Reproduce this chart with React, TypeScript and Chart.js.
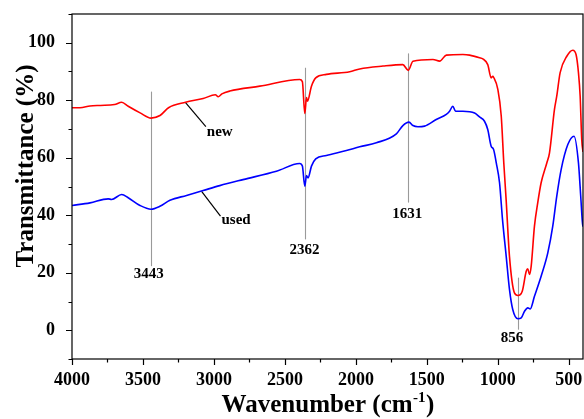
import React, { useEffect, useRef } from 'react';
import { Chart, registerables } from 'chart.js';

Chart.register(...registerables);

// ---- Data ----
const newWavenumbers = [
  4000, 3944, 3873, 3800, 3700, 3650, 3604, 3520, 3443, 3380, 3320, 3200, 3076, 2990, 2970, 2944,
  2888, 2677, 2396, 2377, 2360, 2348, 2341, 2313, 2283, 2208, 2044, 1973, 1809, 1669, 1631, 1598,
  1457, 1410, 1363, 1246, 1199, 1129, 1106, 1071, 1047, 1035, 1030, 1000, 976, 958, 941, 918, 883,
  859, 828, 800, 789, 777, 765, 742, 719, 695, 655, 636, 601, 585, 561, 514, 472, 449, 432, 420,
  409, 400,
];
const newTransmittance = [
  77.4, 77.4, 78.0, 78.2, 78.5, 79.3, 77.9, 75.6, 73.8, 74.7, 77.4, 79.3, 80.6, 81.9, 81.2, 82.2,
  83.2, 84.9, 87.2, 86.5, 75.4, 80.9, 79.7, 84.9, 87.8, 89.0, 89.9, 90.9, 91.9, 92.4, 90.4, 93.6,
  94.2, 93.6, 95.7, 95.9, 95.7, 94.8, 94.4, 92.4, 87.8, 88.3, 88.0, 83.8, 74.5, 58.2, 45.0, 25.7, 13.0,
  12.1, 13.6, 20.5, 21.4, 19.4, 22.3, 36.2, 44.3, 51.3, 58.2, 61.7, 76.8, 81.4, 89.6, 95.3, 97.4, 95.9, 89.6, 81.4,
  66.4, 62.0,
];

const usedWavenumbers = [
  4000, 3873, 3745, 3721, 3650, 3604, 3521, 3443, 3381, 3310, 3193, 3076, 2959, 2795, 2560, 2396,
  2377, 2360, 2348, 2337, 2313, 2283, 2208, 2067, 1973, 1856, 1715, 1669, 1626, 1598, 1563, 1516,
  1434, 1363, 1340, 1317, 1298, 1246, 1164, 1129, 1094, 1071, 1047, 1030, 1011, 988, 967, 941, 918,
  895, 859, 835, 812, 789, 772, 742, 695, 648, 613, 585, 554, 507, 463, 432, 416, 404, 400,
];
const usedTransmittance = [
  43.4, 44.3, 45.7, 45.5, 47.2, 46.1, 43.4, 42.1, 43.1, 45.2, 46.9, 48.6, 50.3, 52.4, 55.3, 58.0,
  57.1, 50.1, 53.8, 53.0, 57.1, 59.6, 60.8, 62.5, 63.8, 65.2, 68.3, 71.2, 72.4, 71.2, 70.8, 71.0,
  73.3, 75.1, 76.2, 77.9, 76.2, 76.2, 75.6, 74.2, 72.7, 69.8, 64.0, 62.9, 58.2, 51.3, 38.5, 25.7, 14.2,
  7.2, 4.0, 4.3, 6.6, 7.8, 7.4, 11.8, 18.8, 26.9, 36.2, 46.6, 55.9, 64.6, 67.5, 58.2, 46.6, 37.4, 36.0,
];

const xTickValues = [4000, 3750, 3500, 3250, 3000, 2750, 2500, 2250, 2000, 1750, 1500, 1250, 1000, 750, 500];
const yTickValues = [-10, 0, 10, 20, 30, 40, 50, 60, 70, 80, 90, 100, 110];

const peakWavenumbers = [3443, 2362, 1631, 856];
const peakLabels = ['3443', '2362', '1631', '856'];
const seriesNames = ['new', 'used'];

// ---- Annotation geometry (data units) ----
const peakLineTop = [83, 91.3, 96.3, 18.3];
const peakLineBottom = [22.3, 31.6, 44.4, 0.2];
const peakLabelX = [3460, 2362, 1639, 900];
const peakLabelY = [19.4, 27.7, 40.4, -2.9];
const leaderFrom = [[3200, 79.2], [3087, 48.3]];
const leaderTo = [[3057, 70.8], [2954, 39.7]];
const leaderText = [[3050, 69.0], [2947, 38.2]];

const FONT = "'Liberation Serif', 'Times New Roman', serif";

const decorPlugin = {
  id: 'decor',
  beforeDatasetsDraw(chart: any) {
    const { ctx } = chart;
    const xs = chart.scales.x;
    const ys = chart.scales.y;
    ctx.save();
    ctx.strokeStyle = '#9a9a9a';
    ctx.lineWidth = 1.1;
    peakWavenumbers.forEach((w, i) => {
      const px = Math.round(xs.getPixelForValue(w)) + 0.5;
      ctx.beginPath();
      ctx.moveTo(px, ys.getPixelForValue(peakLineTop[i]));
      ctx.lineTo(px, ys.getPixelForValue(peakLineBottom[i]));
      ctx.stroke();
    });
    ctx.fillStyle = '#000';
    ctx.font = `bold 15px ${FONT}`;
    ctx.textAlign = 'center';
    ctx.textBaseline = 'middle';
    peakLabels.forEach((t, i) => {
      ctx.fillText(t, xs.getPixelForValue(peakLabelX[i]), ys.getPixelForValue(peakLabelY[i]));
    });
    ctx.strokeStyle = '#000';
    ctx.lineWidth = 1.2;
    seriesNames.forEach((name, i) => {
      ctx.beginPath();
      ctx.moveTo(xs.getPixelForValue(leaderFrom[i][0]), ys.getPixelForValue(leaderFrom[i][1]));
      ctx.lineTo(xs.getPixelForValue(leaderTo[i][0]), ys.getPixelForValue(leaderTo[i][1]));
      ctx.stroke();
      ctx.textAlign = 'left';
      ctx.fillText(name, xs.getPixelForValue(leaderText[i][0]), ys.getPixelForValue(leaderText[i][1]));
    });
    ctx.restore();
  },
  afterDraw(chart: any) {
    const { ctx, chartArea } = chart;
    const xs = chart.scales.x;
    const ys = chart.scales.y;
    ctx.save();
    ctx.strokeStyle = '#000';
    ctx.lineWidth = 1.2;
    ctx.strokeRect(chartArea.left, chartArea.top, chartArea.right - chartArea.left, chartArea.bottom - chartArea.top);
    ctx.beginPath();
    xTickValues.forEach((v) => {
      const px = Math.round(xs.getPixelForValue(v)) + 0.5;
      const len = v % 500 === 0 ? 6 : 3.5;
      ctx.moveTo(px, chartArea.bottom);
      ctx.lineTo(px, chartArea.bottom + len);
    });
    yTickValues.forEach((v) => {
      const py = Math.round(ys.getPixelForValue(v)) + 0.5;
      const len = v % 20 === 0 ? 6 : 3.5;
      ctx.moveTo(chartArea.left, py);
      ctx.lineTo(chartArea.left - len, py);
    });
    ctx.stroke();

    // axis titles
    ctx.fillStyle = '#000';
    ctx.save();
    ctx.translate(33, 166);
    ctx.rotate(-Math.PI / 2);
    ctx.font = `bold 25px ${FONT}`;
    ctx.textAlign = 'center';
    ctx.textBaseline = 'alphabetic';
    ctx.fillText('Transmittance (%)', 0, 0);
    ctx.restore();

    const main = 'Wavenumber (cm';
    const sup = '-1';
    const close = ')';
    ctx.textBaseline = 'alphabetic';
    ctx.textAlign = 'left';
    ctx.font = `bold 25px ${FONT}`;
    const w1 = ctx.measureText(main).width;
    const w3 = ctx.measureText(close).width;
    ctx.font = `bold 15px ${FONT}`;
    const w2 = ctx.measureText(sup).width;
    const cx = (chartArea.left + chartArea.right) / 2;
    const baseY = 412;
    const x0 = cx - (w1 + w2 + w3) / 2;
    ctx.font = `bold 25px ${FONT}`;
    ctx.fillText(main, x0, baseY);
    ctx.font = `bold 15px ${FONT}`;
    ctx.fillText(sup, x0 + w1 + 0.5, baseY - 10);
    ctx.font = `bold 25px ${FONT}`;
    ctx.fillText(close, x0 + w1 + w2 + 1, baseY);
    ctx.restore();
  },
};

export default function App() {
  const ref = useRef<HTMLCanvasElement>(null);
  useEffect(() => {
    document.body.style.margin = '0';
    const toPoints = (xs: number[], ys: number[]) => xs.map((x, i) => ({ x, y: ys[i] }));
    const chart = new Chart(ref.current as HTMLCanvasElement, {
      type: 'line',
      data: {
        datasets: [
          {
            label: seriesNames[0],
            data: toPoints(newWavenumbers, newTransmittance),
            borderColor: '#ff0000',
            borderWidth: 1.6,
            pointRadius: 0,
            cubicInterpolationMode: 'monotone',
            fill: false,
          },
          {
            label: seriesNames[1],
            data: toPoints(usedWavenumbers, usedTransmittance),
            borderColor: '#0000ff',
            borderWidth: 1.6,
            pointRadius: 0,
            cubicInterpolationMode: 'monotone',
            fill: false,
          },
        ],
      },
      options: {
        responsive: false,
        animation: false,
        devicePixelRatio: 1,
        layout: { padding: { top: 14, right: 1, left: 0, bottom: 0 } },
        plugins: { legend: { display: false }, tooltip: { enabled: false } },
        scales: {
          x: {
            type: 'linear',
            min: 400,
            max: 4000,
            reverse: true,
            afterBuildTicks: (s: any) => {
              s.ticks = xTickValues.map((v) => ({ value: v }));
            },
            afterFit: (s: any) => {
              s.height = 60;
              s.paddingLeft = 0;
              s.paddingRight = 0;
            },
            grid: { display: false },
            border: { display: false },
            ticks: {
              autoSkip: false,
              maxRotation: 0,
              minRotation: 0,
              padding: 3,
              color: '#000',
              font: { family: FONT, size: 18, weight: 'bold' },
              callback: (v: any) => (Number(v) % 500 === 0 ? String(v) : ''),
            },
          },
          y: {
            type: 'linear',
            min: -10,
            max: 110,
            afterBuildTicks: (s: any) => {
              s.ticks = yTickValues.map((v) => ({ value: v }));
            },
            afterFit: (s: any) => {
              s.width = 72;
              s.paddingTop = 0;
              s.paddingBottom = 0;
            },
            grid: { display: false },
            border: { display: false },
            ticks: {
              autoSkip: false,
              padding: 9,
              color: '#000',
              font: { family: FONT, size: 18, weight: 'bold' },
              callback: (v: any) => (Number(v) % 20 === 0 && v >= 0 && v <= 100 ? String(v) : ''),
            },
          },
        },
      },
      plugins: [decorPlugin],
    } as any);
    return () => chart.destroy();
  }, []);
  return (
    <div style={{ position: 'fixed', left: 0, top: 0, width: 584, height: 419, background: '#fff' }}>
      <canvas ref={ref} width={584} height={419} style={{ display: 'block' }} />
    </div>
  );
}
